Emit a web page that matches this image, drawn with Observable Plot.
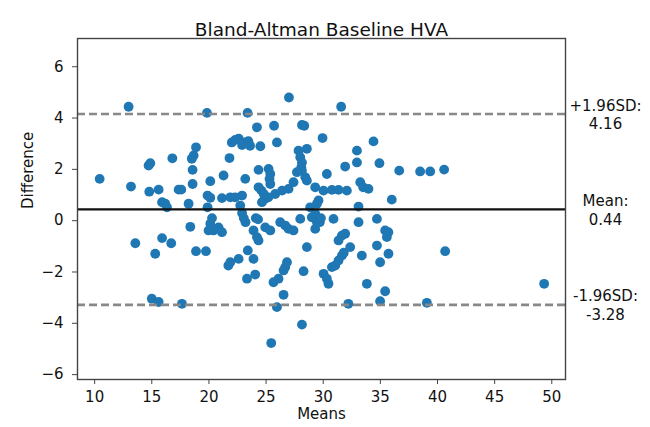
<!DOCTYPE html>
<html>
<head>
<meta charset="utf-8">
<script src="https://cdn.jsdelivr.net/npm/d3@7"></script>
<script src="https://cdn.jsdelivr.net/npm/@observablehq/plot@0.6"></script>
<style>
  html, body { margin: 0; padding: 0; background: #fff; }
  #chart { width: 650px; height: 427px; }
</style>
</head>
<body>
<div id="chart"></div>
<script>
// Data
const means = [
  10.44, 12.97, 13.18, 13.56, 14.72, 14.87, 14.78, 15.3, 15.0, 15.6,
  15.6, 15.9, 16.18, 16.33, 15.9, 16.7, 16.8, 17.35, 17.58, 17.64,
  18.22, 18.37, 18.57, 18.57, 18.5, 18.66, 18.87, 18.87, 19.74, 19.83,
  19.88, 19.88, 20.12, 20.12, 20.27, 20.12, 19.97, 20.4, 20.84, 21.14,
  21.28, 21.14, 21.87, 21.8, 21.7, 21.87, 22.0, 22.3, 22.6, 22.9,
  23.1, 23.45, 23.6, 22.3, 22.9, 22.74, 22.9, 23.05, 23.2, 22.6,
  23.18, 23.4, 23.9, 23.33, 24.05, 23.38, 24.2, 24.5, 24.34, 24.1,
  24.3, 23.9, 24.2, 24.34, 24.34, 24.6, 24.8, 24.9, 25.2, 24.64,
  24.93, 25.37, 25.22, 25.37, 25.3, 25.37, 25.45, 25.7, 25.95, 25.65,
  26.09, 25.95, 25.8, 26.4, 26.97, 27.4, 26.24, 26.68, 26.97, 27.4,
  26.68, 26.83, 26.53, 26.53, 27.0, 27.99, 27.84, 28.57, 27.99, 28.14,
  28.08, 28.14, 27.7, 28.43, 28.57, 28.14, 28.34, 28.28, 28.14, 28.57,
  28.86, 29.45, 29.59, 29.3, 29.3, 29.45, 29.3, 29.0, 29.7, 29.8,
  29.94, 30.03, 30.76, 31.34, 32.07, 30.32, 30.9, 30.03, 30.32, 30.46,
  30.76, 31.05, 31.34, 31.64, 31.8, 31.57, 31.64, 31.92, 31.34, 32.36,
  31.92, 32.2, 32.95, 32.95, 33.09, 33.09, 33.24, 33.5, 33.96, 33.38,
  33.82, 34.4, 34.92, 34.7, 34.7, 34.98, 34.98, 35.42, 35.42, 35.57,
  35.7, 35.71, 36.0, 36.65, 38.48, 39.36, 40.58, 39.07, 40.67, 49.33
];
const diffs = [
  1.63, 4.44, 1.33, -0.88, 2.15, 2.24, 1.13, -1.29, -3.04, -3.17,
  1.21, 0.72, 0.66, 0.52, -0.68, -0.88, 2.43, 1.21, 1.21, -3.24,
  0.66, -0.24, 1.98, 1.43, 2.41, 2.54, 2.86, -1.19, -1.19, 4.2,
  0.52, 0.98, 0.89, 1.54, 0.1, -0.12, -0.38, -0.38, -0.26, -0.45,
  1.76, 0.88, 0.91, 2.44, -1.75, -1.62, 3.05, 3.15, 3.2, 2.95,
  3.05, 3.1, 2.92, 0.91, 0.98, 0.59, 0.3, 0.1, -0.06, -1.49,
  1.63, -1.16, -1.49, -2.26, -2.1, 4.2, 3.64, 2.9, 1.98, 0.1,
  0.05, -0.38, -0.64, -0.77, 1.3, 1.17, 1.04, 0.85, 0.91, 0.72,
  -0.26, -0.38, 2.02, 1.82, 1.63, 1.43, -4.77, 3.7, 3.05, -2.4,
  -2.26, -3.37, 1.04, 1.17, 1.24, 1.5, -0.06, -0.19, -0.32, -0.38,
  -1.81, -1.62, -1.94, -2.89, 4.8, 0.07, 2.73, 2.8, 2.47, 2.27,
  2.08, 1.95, 1.89, 1.69, 1.56, 3.73, 3.7, -1.97, -4.05, -1.03,
  0.52, 0.66, 0.79, 1.3, 0.27, -0.06, -0.32, 0.13, -0.06, 0.1,
  3.22, 1.17, 1.2, 1.2, 1.17, 1.82, 0.07, -2.07, -2.26, -2.46,
  -1.81, -1.75, -1.55, -1.36, -1.25, 4.44, -0.58, -0.51, -0.77, -1.03,
  2.11, -3.24, 2.73, 2.27, 0.55, -0.06, 1.5, 1.3, 1.24, -1.36,
  -2.46, 3.09, 2.24, 0.07, -0.97, -1.62, -3.14, -2.75, -0.38, -0.64,
  -0.45, -1.29, 0.82, 1.95, 1.92, 1.92, 1.99, -3.2, -1.19, -2.46
];
const meanDiff = 0.44;
const limitValues = [4.16, -3.28];
const sideLabels = ["+1.96SD:\n4.16", "Mean:\n0.44", "-1.96SD:\n-3.28"];
const sideValues = [4.16, 0.44, -3.28];
const xTicks = [10, 15, 20, 25, 30, 35, 40, 45, 50];
const yTicks = [-6, -4, -2, 0, 2, 4, 6];
const titleText = "Bland-Altman Baseline HVA";
const xLabel = "Means";
const yLabel = "Difference";

const points = means.map((m, i) => ({m, d: diffs[i]}));
const side = sideLabels.map((t, i) => ({t, v: sideValues[i]}));
const fmt = d => d < 0 ? "\u2212" + Math.abs(d) : String(d);

const chart = Plot.plot({
  width: 650,
  height: 427,
  marginLeft: 77,
  marginRight: 85,
  marginTop: 38,
  marginBottom: 48,
  style: {fontFamily: "DejaVu Sans", fontSize: "15px", color: "#111", background: "#fff"},
  x: {domain: [8.5, 51.2]},
  y: {domain: [-6.19, 7.1]},
  marks: [
    Plot.dot(points, {x: "m", y: "d", r: 4.9, fill: "#1f77b4"}),
    Plot.ruleY([meanDiff], {stroke: "#111", strokeWidth: 2.3}),
    Plot.ruleY(limitValues, {stroke: "#888", strokeWidth: 2.6, strokeDasharray: "8,4"}),
    Plot.frame({stroke: "#444", strokeWidth: 1.4}),
    Plot.axisX({ticks: xTicks, tickFormat: fmt, tickSize: 5, tickPadding: 7, stroke: "#444", label: null}),
    Plot.axisY({ticks: yTicks, tickFormat: fmt, tickSize: 5, tickPadding: 9, stroke: "#444", label: null}),
    Plot.text([xLabel], {frameAnchor: "bottom", dy: 39, text: d => d, fontSize: 15}),
    Plot.text([yLabel], {frameAnchor: "left", dx: -49, rotate: -90, text: d => d, fontSize: 15}),
    Plot.text([titleText], {frameAnchor: "top", dy: -16, text: d => d, fontSize: 18.5}),
    Plot.text(side, {y: "v", text: "t", frameAnchor: "right", dx: 40, textAnchor: "middle", lineAnchor: "middle", lineHeight: 1.25, fontSize: 15})
  ]
});
document.getElementById("chart").appendChild(chart);
</script>
</body>
</html>
